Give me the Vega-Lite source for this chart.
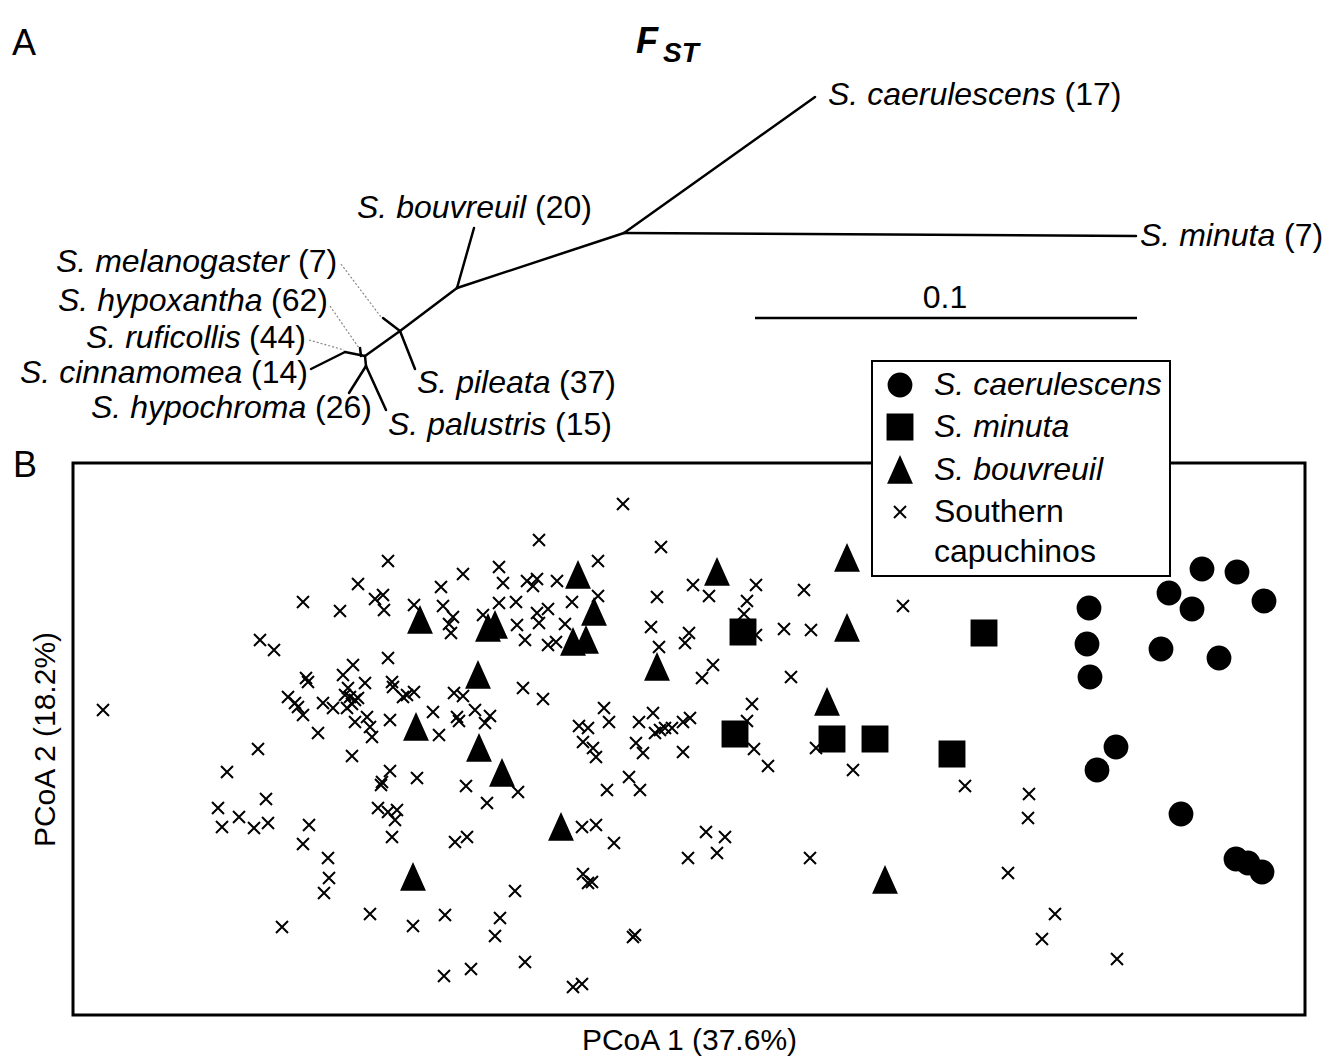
{
  "$schema": "https://vega.github.io/schema/vega-lite/v6.json",
  "background": "white",
  "padding": {"left": 12, "top": 0, "right": 5, "bottom": 5},
  "bounds": "flush",
  "spacing": 23,
  "config": {"font": "Liberation Sans", "text": {"color": "black"}},
  "vconcat": [
    {
      "width": 1232,
      "height": 440,
      "view": {"stroke": null},
      "encoding": {
        "x": {"field": "x", "type": "quantitative", "scale": {"domain": [73, 1305], "nice": false, "zero": false}, "axis": null},
        "y": {"field": "y", "type": "quantitative", "scale": {"domain": [0, 440], "nice": false, "zero": false, "reverse": true}, "axis": null}
      },
      "layer": [
        {
          "data": {"values": [
            {"x": 624, "y": 233, "x2": 815, "y2": 97},
            {"x": 624, "y": 233, "x2": 1136, "y2": 236},
            {"x": 624, "y": 233, "x2": 457, "y2": 288},
            {"x": 457, "y": 288, "x2": 474, "y2": 228},
            {"x": 457, "y": 288, "x2": 400, "y2": 331},
            {"x": 400, "y": 331, "x2": 383, "y2": 318},
            {"x": 400, "y": 331, "x2": 415, "y2": 369},
            {"x": 400, "y": 331, "x2": 365, "y2": 356},
            {"x": 361, "y": 356, "x2": 360, "y2": 348},
            {"x": 365, "y": 356, "x2": 366, "y2": 366},
            {"x": 366, "y": 366, "x2": 349, "y2": 393},
            {"x": 366, "y": 366, "x2": 386, "y2": 410},
            {"x": 365, "y": 356, "x2": 345, "y2": 352},
            {"x": 345, "y": 352, "x2": 311, "y2": 369}
          ]},
          "mark": {"type": "rule", "stroke": "black", "strokeWidth": 2.5, "strokeCap": "round"},
          "encoding": {"x2": {"field": "x2"}, "y2": {"field": "y2"}}
        },
        {
          "data": {"values": [
            {"x": 341, "y": 264, "x2": 381, "y2": 317},
            {"x": 330, "y": 306, "x2": 359, "y2": 348},
            {"x": 309, "y": 340, "x2": 344, "y2": 350}
          ]},
          "mark": {"type": "rule", "stroke": "#888888", "strokeWidth": 1.2, "strokeDash": [2, 2]},
          "encoding": {"x2": {"field": "x2"}, "y2": {"field": "y2"}}
        },
        {
          "data": {"values": [{"x": 755, "y": 318, "x2": 1137, "y2": 318}]},
          "mark": {"type": "rule", "stroke": "black", "strokeWidth": 2.5},
          "encoding": {"x2": {"field": "x2"}, "y2": {"field": "y2"}}
        },
        {
          "data": {"values": [
            {"t": "S. caerulescens", "x": 828, "y": 95},
            {"t": "S. minuta", "x": 1140, "y": 236},
            {"t": "S. bouvreuil", "x": 357, "y": 208},
            {"t": "S. melanogaster", "x": 56, "y": 262},
            {"t": "S. hypoxantha", "x": 58, "y": 301},
            {"t": "S. ruficollis", "x": 86, "y": 338},
            {"t": "S. cinnamomea", "x": 20, "y": 373},
            {"t": "S. hypochroma", "x": 91, "y": 408},
            {"t": "S. pileata", "x": 417, "y": 383},
            {"t": "S. palustris", "x": 388, "y": 425}
          ]},
          "mark": {"type": "text", "align": "left", "baseline": "middle", "fontSize": 32, "fontStyle": "italic"},
          "encoding": {"text": {"field": "t"}}
        },
        {
          "data": {"values": [
            {"t": "(17)", "x": 1064.5, "y": 95},
            {"t": "(7)", "x": 1284, "y": 236},
            {"t": "(20)", "x": 535, "y": 208},
            {"t": "(7)", "x": 298, "y": 262},
            {"t": "(62)", "x": 271, "y": 301},
            {"t": "(44)", "x": 249, "y": 338},
            {"t": "(14)", "x": 251, "y": 373},
            {"t": "(26)", "x": 315, "y": 408},
            {"t": "(37)", "x": 559, "y": 383},
            {"t": "(15)", "x": 555, "y": 425}
          ]},
          "mark": {"type": "text", "align": "left", "baseline": "middle", "fontSize": 32},
          "encoding": {"text": {"field": "t"}}
        },
        {
          "data": {"values": [{"t": "0.1", "x": 945, "y": 298}]},
          "mark": {"type": "text", "align": "center", "baseline": "middle", "fontSize": 32},
          "encoding": {"text": {"field": "t"}}
        },
        {
          "data": {"values": [{"t": "A", "x": 12, "y": 55}, {"t": "B", "x": 13, "y": 477}]},
          "mark": {"type": "text", "align": "left", "baseline": "alphabetic", "fontSize": 36},
          "encoding": {"text": {"field": "t"}}
        },
        {
          "data": {"values": [{"t": "F", "x": 636, "y": 53}]},
          "mark": {"type": "text", "align": "left", "baseline": "alphabetic", "fontSize": 36, "fontWeight": "bold", "fontStyle": "italic"},
          "encoding": {"text": {"field": "t"}}
        },
        {
          "data": {"values": [{"t": "ST", "x": 663, "y": 62}]},
          "mark": {"type": "text", "align": "left", "baseline": "alphabetic", "fontSize": 28, "fontWeight": "bold", "fontStyle": "italic"},
          "encoding": {"text": {"field": "t"}}
        }
      ]
    },
    {
      "width": 1232,
      "height": 552,
      "view": {"stroke": "black", "strokeWidth": 3},
      "data": {"values": [
        {"group": "Southern capuchinos", "pc1": 103, "pc2": -710},
        {"group": "Southern capuchinos", "pc1": 388, "pc2": -561},
        {"group": "Southern capuchinos", "pc1": 358, "pc2": -584},
        {"group": "Southern capuchinos", "pc1": 303, "pc2": -602},
        {"group": "Southern capuchinos", "pc1": 340, "pc2": -611},
        {"group": "Southern capuchinos", "pc1": 375, "pc2": -599},
        {"group": "Southern capuchinos", "pc1": 383, "pc2": -595},
        {"group": "Southern capuchinos", "pc1": 384, "pc2": -610},
        {"group": "Southern capuchinos", "pc1": 260, "pc2": -640},
        {"group": "Southern capuchinos", "pc1": 274, "pc2": -650},
        {"group": "Southern capuchinos", "pc1": 388, "pc2": -658},
        {"group": "Southern capuchinos", "pc1": 353, "pc2": -665},
        {"group": "Southern capuchinos", "pc1": 343, "pc2": -675},
        {"group": "Southern capuchinos", "pc1": 308, "pc2": -682},
        {"group": "Southern capuchinos", "pc1": 306, "pc2": -678},
        {"group": "Southern capuchinos", "pc1": 365, "pc2": -683},
        {"group": "Southern capuchinos", "pc1": 392, "pc2": -682},
        {"group": "Southern capuchinos", "pc1": 393, "pc2": -687},
        {"group": "Southern capuchinos", "pc1": 288, "pc2": -697},
        {"group": "Southern capuchinos", "pc1": 295, "pc2": -703},
        {"group": "Southern capuchinos", "pc1": 298, "pc2": -707},
        {"group": "Southern capuchinos", "pc1": 303, "pc2": -715},
        {"group": "Southern capuchinos", "pc1": 323, "pc2": -703},
        {"group": "Southern capuchinos", "pc1": 333, "pc2": -708},
        {"group": "Southern capuchinos", "pc1": 345, "pc2": -695},
        {"group": "Southern capuchinos", "pc1": 350, "pc2": -697},
        {"group": "Southern capuchinos", "pc1": 355, "pc2": -700},
        {"group": "Southern capuchinos", "pc1": 352, "pc2": -704},
        {"group": "Southern capuchinos", "pc1": 347, "pc2": -708},
        {"group": "Southern capuchinos", "pc1": 358, "pc2": -698},
        {"group": "Southern capuchinos", "pc1": 348, "pc2": -688},
        {"group": "Southern capuchinos", "pc1": 355, "pc2": -722},
        {"group": "Southern capuchinos", "pc1": 367, "pc2": -717},
        {"group": "Southern capuchinos", "pc1": 370, "pc2": -727},
        {"group": "Southern capuchinos", "pc1": 372, "pc2": -737},
        {"group": "Southern capuchinos", "pc1": 390, "pc2": -720},
        {"group": "Southern capuchinos", "pc1": 318, "pc2": -733},
        {"group": "Southern capuchinos", "pc1": 258, "pc2": -749},
        {"group": "Southern capuchinos", "pc1": 352, "pc2": -756},
        {"group": "Southern capuchinos", "pc1": 227, "pc2": -772},
        {"group": "Southern capuchinos", "pc1": 390, "pc2": -771},
        {"group": "Southern capuchinos", "pc1": 382, "pc2": -782},
        {"group": "Southern capuchinos", "pc1": 381, "pc2": -785},
        {"group": "Southern capuchinos", "pc1": 266, "pc2": -799},
        {"group": "Southern capuchinos", "pc1": 218, "pc2": -808},
        {"group": "Southern capuchinos", "pc1": 222, "pc2": -827},
        {"group": "Southern capuchinos", "pc1": 239, "pc2": -817},
        {"group": "Southern capuchinos", "pc1": 254, "pc2": -828},
        {"group": "Southern capuchinos", "pc1": 268, "pc2": -823},
        {"group": "Southern capuchinos", "pc1": 309, "pc2": -825},
        {"group": "Southern capuchinos", "pc1": 303, "pc2": -844},
        {"group": "Southern capuchinos", "pc1": 328, "pc2": -858},
        {"group": "Southern capuchinos", "pc1": 329, "pc2": -878},
        {"group": "Southern capuchinos", "pc1": 324, "pc2": -893},
        {"group": "Southern capuchinos", "pc1": 378, "pc2": -808},
        {"group": "Southern capuchinos", "pc1": 388, "pc2": -812},
        {"group": "Southern capuchinos", "pc1": 397, "pc2": -810},
        {"group": "Southern capuchinos", "pc1": 395, "pc2": -820},
        {"group": "Southern capuchinos", "pc1": 392, "pc2": -837},
        {"group": "Southern capuchinos", "pc1": 370, "pc2": -914},
        {"group": "Southern capuchinos", "pc1": 282, "pc2": -927},
        {"group": "Southern capuchinos", "pc1": 403, "pc2": -697},
        {"group": "Southern capuchinos", "pc1": 407, "pc2": -695},
        {"group": "Southern capuchinos", "pc1": 414, "pc2": -692},
        {"group": "Southern capuchinos", "pc1": 623, "pc2": -504},
        {"group": "Southern capuchinos", "pc1": 539, "pc2": -540},
        {"group": "Southern capuchinos", "pc1": 661, "pc2": -547},
        {"group": "Southern capuchinos", "pc1": 598, "pc2": -561},
        {"group": "Southern capuchinos", "pc1": 463, "pc2": -574},
        {"group": "Southern capuchinos", "pc1": 499, "pc2": -567},
        {"group": "Southern capuchinos", "pc1": 441, "pc2": -587},
        {"group": "Southern capuchinos", "pc1": 503, "pc2": -583},
        {"group": "Southern capuchinos", "pc1": 527, "pc2": -581},
        {"group": "Southern capuchinos", "pc1": 537, "pc2": -579},
        {"group": "Southern capuchinos", "pc1": 533, "pc2": -586},
        {"group": "Southern capuchinos", "pc1": 557, "pc2": -581},
        {"group": "Southern capuchinos", "pc1": 598, "pc2": -596},
        {"group": "Southern capuchinos", "pc1": 693, "pc2": -585},
        {"group": "Southern capuchinos", "pc1": 709, "pc2": -596},
        {"group": "Southern capuchinos", "pc1": 657, "pc2": -597},
        {"group": "Southern capuchinos", "pc1": 414, "pc2": -605},
        {"group": "Southern capuchinos", "pc1": 443, "pc2": -606},
        {"group": "Southern capuchinos", "pc1": 453, "pc2": -617},
        {"group": "Southern capuchinos", "pc1": 449, "pc2": -624},
        {"group": "Southern capuchinos", "pc1": 451, "pc2": -633},
        {"group": "Southern capuchinos", "pc1": 483, "pc2": -615},
        {"group": "Southern capuchinos", "pc1": 499, "pc2": -603},
        {"group": "Southern capuchinos", "pc1": 516, "pc2": -602},
        {"group": "Southern capuchinos", "pc1": 572, "pc2": -602},
        {"group": "Southern capuchinos", "pc1": 537, "pc2": -613},
        {"group": "Southern capuchinos", "pc1": 548, "pc2": -609},
        {"group": "Southern capuchinos", "pc1": 539, "pc2": -623},
        {"group": "Southern capuchinos", "pc1": 517, "pc2": -625},
        {"group": "Southern capuchinos", "pc1": 565, "pc2": -624},
        {"group": "Southern capuchinos", "pc1": 525, "pc2": -640},
        {"group": "Southern capuchinos", "pc1": 548, "pc2": -645},
        {"group": "Southern capuchinos", "pc1": 556, "pc2": -642},
        {"group": "Southern capuchinos", "pc1": 651, "pc2": -627},
        {"group": "Southern capuchinos", "pc1": 689, "pc2": -633},
        {"group": "Southern capuchinos", "pc1": 685, "pc2": -643},
        {"group": "Southern capuchinos", "pc1": 659, "pc2": -647},
        {"group": "Southern capuchinos", "pc1": 713, "pc2": -665},
        {"group": "Southern capuchinos", "pc1": 702, "pc2": -678},
        {"group": "Southern capuchinos", "pc1": 454, "pc2": -693},
        {"group": "Southern capuchinos", "pc1": 463, "pc2": -696},
        {"group": "Southern capuchinos", "pc1": 523, "pc2": -688},
        {"group": "Southern capuchinos", "pc1": 543, "pc2": -699},
        {"group": "Southern capuchinos", "pc1": 433, "pc2": -712},
        {"group": "Southern capuchinos", "pc1": 457, "pc2": -717},
        {"group": "Southern capuchinos", "pc1": 459, "pc2": -721},
        {"group": "Southern capuchinos", "pc1": 475, "pc2": -710},
        {"group": "Southern capuchinos", "pc1": 490, "pc2": -716},
        {"group": "Southern capuchinos", "pc1": 485, "pc2": -723},
        {"group": "Southern capuchinos", "pc1": 439, "pc2": -735},
        {"group": "Southern capuchinos", "pc1": 579, "pc2": -726},
        {"group": "Southern capuchinos", "pc1": 588, "pc2": -728},
        {"group": "Southern capuchinos", "pc1": 604, "pc2": -708},
        {"group": "Southern capuchinos", "pc1": 609, "pc2": -722},
        {"group": "Southern capuchinos", "pc1": 639, "pc2": -722},
        {"group": "Southern capuchinos", "pc1": 653, "pc2": -713},
        {"group": "Southern capuchinos", "pc1": 655, "pc2": -733},
        {"group": "Southern capuchinos", "pc1": 660, "pc2": -730},
        {"group": "Southern capuchinos", "pc1": 665, "pc2": -728},
        {"group": "Southern capuchinos", "pc1": 672, "pc2": -728},
        {"group": "Southern capuchinos", "pc1": 683, "pc2": -722},
        {"group": "Southern capuchinos", "pc1": 690, "pc2": -718},
        {"group": "Southern capuchinos", "pc1": 417, "pc2": -778},
        {"group": "Southern capuchinos", "pc1": 466, "pc2": -786},
        {"group": "Southern capuchinos", "pc1": 487, "pc2": -803},
        {"group": "Southern capuchinos", "pc1": 518, "pc2": -792},
        {"group": "Southern capuchinos", "pc1": 455, "pc2": -842},
        {"group": "Southern capuchinos", "pc1": 467, "pc2": -837},
        {"group": "Southern capuchinos", "pc1": 582, "pc2": -827},
        {"group": "Southern capuchinos", "pc1": 596, "pc2": -825},
        {"group": "Southern capuchinos", "pc1": 614, "pc2": -843},
        {"group": "Southern capuchinos", "pc1": 583, "pc2": -742},
        {"group": "Southern capuchinos", "pc1": 593, "pc2": -748},
        {"group": "Southern capuchinos", "pc1": 596, "pc2": -757},
        {"group": "Southern capuchinos", "pc1": 636, "pc2": -743},
        {"group": "Southern capuchinos", "pc1": 643, "pc2": -753},
        {"group": "Southern capuchinos", "pc1": 683, "pc2": -752},
        {"group": "Southern capuchinos", "pc1": 607, "pc2": -790},
        {"group": "Southern capuchinos", "pc1": 629, "pc2": -777},
        {"group": "Southern capuchinos", "pc1": 640, "pc2": -790},
        {"group": "Southern capuchinos", "pc1": 706, "pc2": -832},
        {"group": "Southern capuchinos", "pc1": 725, "pc2": -837},
        {"group": "Southern capuchinos", "pc1": 688, "pc2": -858},
        {"group": "Southern capuchinos", "pc1": 717, "pc2": -853},
        {"group": "Southern capuchinos", "pc1": 515, "pc2": -891},
        {"group": "Southern capuchinos", "pc1": 583, "pc2": -874},
        {"group": "Southern capuchinos", "pc1": 588, "pc2": -883},
        {"group": "Southern capuchinos", "pc1": 592, "pc2": -882},
        {"group": "Southern capuchinos", "pc1": 413, "pc2": -926},
        {"group": "Southern capuchinos", "pc1": 445, "pc2": -915},
        {"group": "Southern capuchinos", "pc1": 500, "pc2": -918},
        {"group": "Southern capuchinos", "pc1": 495, "pc2": -936},
        {"group": "Southern capuchinos", "pc1": 635, "pc2": -935},
        {"group": "Southern capuchinos", "pc1": 633, "pc2": -937},
        {"group": "Southern capuchinos", "pc1": 525, "pc2": -962},
        {"group": "Southern capuchinos", "pc1": 471, "pc2": -969},
        {"group": "Southern capuchinos", "pc1": 444, "pc2": -976},
        {"group": "Southern capuchinos", "pc1": 573, "pc2": -987},
        {"group": "Southern capuchinos", "pc1": 582, "pc2": -984},
        {"group": "Southern capuchinos", "pc1": 756, "pc2": -585},
        {"group": "Southern capuchinos", "pc1": 747, "pc2": -601},
        {"group": "Southern capuchinos", "pc1": 744, "pc2": -614},
        {"group": "Southern capuchinos", "pc1": 804, "pc2": -590},
        {"group": "Southern capuchinos", "pc1": 903, "pc2": -606},
        {"group": "Southern capuchinos", "pc1": 756, "pc2": -635},
        {"group": "Southern capuchinos", "pc1": 784, "pc2": -629},
        {"group": "Southern capuchinos", "pc1": 811, "pc2": -630},
        {"group": "Southern capuchinos", "pc1": 791, "pc2": -677},
        {"group": "Southern capuchinos", "pc1": 752, "pc2": -704},
        {"group": "Southern capuchinos", "pc1": 747, "pc2": -721},
        {"group": "Southern capuchinos", "pc1": 754, "pc2": -749},
        {"group": "Southern capuchinos", "pc1": 768, "pc2": -766},
        {"group": "Southern capuchinos", "pc1": 816, "pc2": -748},
        {"group": "Southern capuchinos", "pc1": 853, "pc2": -770},
        {"group": "Southern capuchinos", "pc1": 965, "pc2": -786},
        {"group": "Southern capuchinos", "pc1": 1029, "pc2": -794},
        {"group": "Southern capuchinos", "pc1": 1028, "pc2": -818},
        {"group": "Southern capuchinos", "pc1": 810, "pc2": -858},
        {"group": "Southern capuchinos", "pc1": 1008, "pc2": -873},
        {"group": "Southern capuchinos", "pc1": 1055, "pc2": -914},
        {"group": "Southern capuchinos", "pc1": 1042, "pc2": -939},
        {"group": "Southern capuchinos", "pc1": 1117, "pc2": -959},
        {"group": "S. bouvreuil", "pc1": 420, "pc2": -620},
        {"group": "S. bouvreuil", "pc1": 488, "pc2": -628},
        {"group": "S. bouvreuil", "pc1": 495, "pc2": -625},
        {"group": "S. bouvreuil", "pc1": 578, "pc2": -575},
        {"group": "S. bouvreuil", "pc1": 594, "pc2": -612},
        {"group": "S. bouvreuil", "pc1": 573, "pc2": -642},
        {"group": "S. bouvreuil", "pc1": 586, "pc2": -640},
        {"group": "S. bouvreuil", "pc1": 478, "pc2": -675},
        {"group": "S. bouvreuil", "pc1": 416, "pc2": -727},
        {"group": "S. bouvreuil", "pc1": 479, "pc2": -748},
        {"group": "S. bouvreuil", "pc1": 502, "pc2": -773},
        {"group": "S. bouvreuil", "pc1": 561, "pc2": -827},
        {"group": "S. bouvreuil", "pc1": 413, "pc2": -877},
        {"group": "S. bouvreuil", "pc1": 657, "pc2": -667},
        {"group": "S. bouvreuil", "pc1": 717, "pc2": -572},
        {"group": "S. bouvreuil", "pc1": 847, "pc2": -558},
        {"group": "S. bouvreuil", "pc1": 847, "pc2": -628},
        {"group": "S. bouvreuil", "pc1": 827, "pc2": -702},
        {"group": "S. bouvreuil", "pc1": 885, "pc2": -880},
        {"group": "S. minuta", "pc1": 743, "pc2": -632},
        {"group": "S. minuta", "pc1": 984, "pc2": -633},
        {"group": "S. minuta", "pc1": 735, "pc2": -734},
        {"group": "S. minuta", "pc1": 832, "pc2": -739},
        {"group": "S. minuta", "pc1": 875, "pc2": -739},
        {"group": "S. minuta", "pc1": 952, "pc2": -754},
        {"group": "S. caerulescens", "pc1": 1089, "pc2": -608},
        {"group": "S. caerulescens", "pc1": 1087, "pc2": -644},
        {"group": "S. caerulescens", "pc1": 1090, "pc2": -677},
        {"group": "S. caerulescens", "pc1": 1169, "pc2": -593},
        {"group": "S. caerulescens", "pc1": 1202, "pc2": -569},
        {"group": "S. caerulescens", "pc1": 1237, "pc2": -572},
        {"group": "S. caerulescens", "pc1": 1192, "pc2": -609},
        {"group": "S. caerulescens", "pc1": 1264, "pc2": -601},
        {"group": "S. caerulescens", "pc1": 1161, "pc2": -649},
        {"group": "S. caerulescens", "pc1": 1219, "pc2": -658},
        {"group": "S. caerulescens", "pc1": 1116, "pc2": -747},
        {"group": "S. caerulescens", "pc1": 1097, "pc2": -770},
        {"group": "S. caerulescens", "pc1": 1181, "pc2": -814},
        {"group": "S. caerulescens", "pc1": 1236, "pc2": -859},
        {"group": "S. caerulescens", "pc1": 1248, "pc2": -863},
        {"group": "S. caerulescens", "pc1": 1262, "pc2": -872}
      ]},
      "mark": {"type": "point", "filled": true, "fill": "black", "stroke": "black", "strokeWidth": 2, "opacity": 1},
      "encoding": {
        "x": {"field": "pc1", "type": "quantitative", "scale": {"domain": [73, 1305], "nice": false, "zero": false},
              "axis": {"title": "PCoA 1 (37.6%)", "domain": false, "ticks": false, "labels": false, "grid": false, "titleFontSize": 30, "titleFontWeight": "normal", "titleColor": "black", "titlePadding": 10}},
        "y": {"field": "pc2", "type": "quantitative", "scale": {"domain": [-1015, -463], "nice": false, "zero": false},
              "axis": {"title": "PCoA 2 (18.2%)", "domain": false, "ticks": false, "labels": false, "grid": false, "titleFontSize": 30, "titleFontWeight": "normal", "titleColor": "black", "titlePadding": 13}},
        "shape": {"field": "group", "type": "nominal",
                  "scale": {"domain": ["S. caerulescens", "S. minuta", "S. bouvreuil", "Southern capuchinos"],
                            "range": ["circle", "square", "M0,-1L0.9,1L-0.9,1Z", "M-1,-1L1,1M1,-1L-1,1"]},
                  "legend": {"orient": "none", "legendX": 799, "legendY": 361, "title": null,
                             "fillColor": "white", "strokeColor": "black", "padding": 8,
                             "labelFontSize": 32, "labelColor": "black", "labelLimit": 600,
                             "labelOffset": 18, "symbolOffset": 4, "rowPadding": 9,
                             "symbolFillColor": "black", "symbolStrokeColor": "black", "symbolStrokeWidth": 2, "symbolOpacity": 1,
                             "labelExpr": "datum.label == 'Southern capuchinos' ? ['Southern', 'capuchinos'] : datum.label",
                             "encoding": {
                               "labels": {"fontStyle": {"condition": {"test": "datum.value === 'Southern capuchinos'", "value": "normal"}, "value": "italic"}, "lineHeight": {"value": 40}},
                               "symbols": {"stroke": {"value": "black"}, "fill": {"value": "black"}, "strokeWidth": {"value": 2}, "opacity": {"value": 1}},
                               "legend": {"strokeWidth": {"value": 2}}
                             }}},
        "size": {"field": "group", "type": "nominal",
                 "scale": {"type": "ordinal", "domain": ["S. caerulescens", "S. minuta", "S. bouvreuil", "Southern capuchinos"], "range": [520, 620, 640, 144]},
                 "legend": {"orient": "none", "legendX": 799, "legendY": 361, "title": null,
                            "fillColor": "white", "strokeColor": "black", "padding": 8,
                            "labelFontSize": 32, "labelColor": "black", "labelLimit": 600,
                            "labelOffset": 18, "symbolOffset": 4, "rowPadding": 9,
                            "symbolFillColor": "black", "symbolStrokeColor": "black", "symbolStrokeWidth": 2, "symbolOpacity": 1,
                            "labelExpr": "datum.label == 'Southern capuchinos' ? ['Southern', 'capuchinos'] : datum.label",
                            "encoding": {
                              "labels": {"fontStyle": {"condition": {"test": "datum.value === 'Southern capuchinos'", "value": "normal"}, "value": "italic"}, "lineHeight": {"value": 40}},
                              "symbols": {"stroke": {"value": "black"}, "fill": {"value": "black"}, "strokeWidth": {"value": 2}, "opacity": {"value": 1}},
                              "legend": {"strokeWidth": {"value": 2}}
                            }}}
      }
    }
  ]
}
